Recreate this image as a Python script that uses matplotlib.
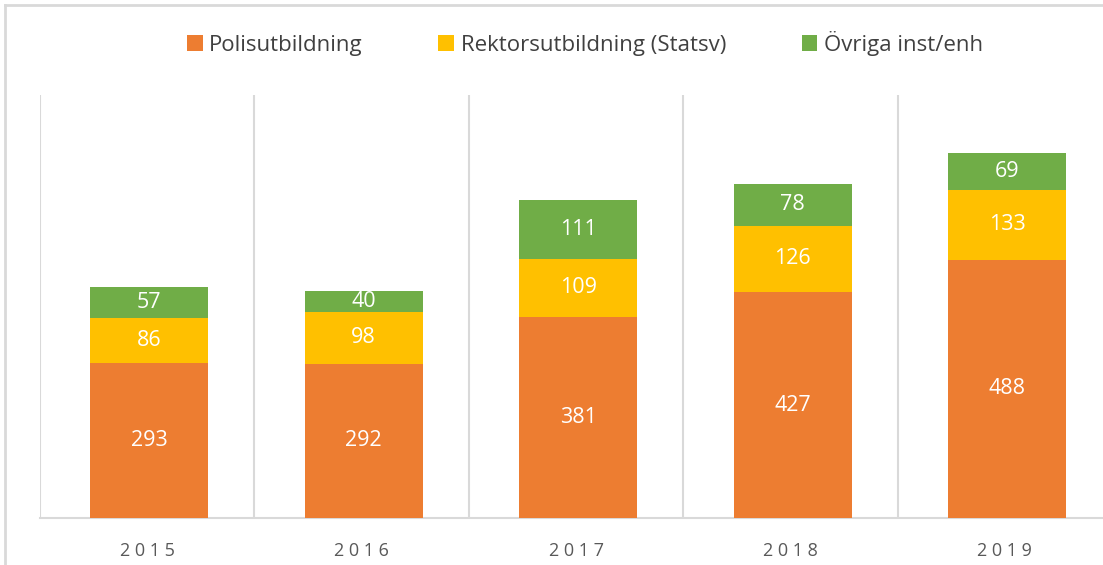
import matplotlib.pyplot as plt
from matplotlib.lines import Line2D

years = ['2015', '2016', '2017', '2018', '2019']
polis = [293, 292, 381, 427, 488]
rektor = [86, 98, 109, 126, 133]
ovriga = [57, 40, 111, 78, 69]

series = [('Polisutbildning', polis, '#ED7D31'),
          ('Rektorsutbildning (Statsv)', rektor, '#FFC000'),
          ('Övriga inst/enh', ovriga, '#70AD47')]

plt.rcParams['font.family'] = ['Open Sans', 'DejaVu Sans']

fig = plt.figure(figsize=(11.03, 5.65), dpi=100)
# outer chart frame (cropped at top/right in the original)
fig.add_artist(Line2D([5/1103, 1], [1 - 5/565, 1 - 5/565], transform=fig.transFigure,
                      color='#d9d9d9', lw=2))
fig.add_artist(Line2D([5/1103, 5/1103], [0, 1 - 5/565], transform=fig.transFigure,
                      color='#d9d9d9', lw=2))

ax = fig.add_axes([40/1103, 47/565, (1112-40)/1103, (518-95)/565])
x = range(len(years))
bottom = [0] * len(years)
handles = []
for name, vals, col in series:
    bars = ax.bar([xi + 0.01 for xi in x], vals, 0.55, bottom=bottom, color=col,
                  label=name, zorder=3)
    handles.append(bars)
    for xi, b, v in zip(x, bottom, vals):
        ax.text(xi + 0.01, b + v / 2, str(v), ha='center', va='center',
                color='white', fontsize=15.5, zorder=4)
    bottom = [b + v for b, v in zip(bottom, vals)]

ax.set_xlim(-0.5, 4.5)
ax.set_ylim(0, 800)
for bx in [-0.5, 0.5, 1.5, 2.5, 3.5]:
    ax.axvline(bx, color='#d9d9d9', lw=1.5, zorder=1)
for s in ['top', 'right', 'left']:
    ax.spines[s].set_visible(False)
ax.spines['bottom'].set_color('#d9d9d9')
ax.spines['bottom'].set_linewidth(1.5)
ax.set_yticks([])
ax.set_xticks(list(x))
ax.set_xticklabels([' '.join(y) for y in years], fontsize=13, color='#595959')
ax.tick_params(axis='x', length=0, pad=17)

fig.legend(handles=handles, loc='center', bbox_to_anchor=(585/1103, 1 - 43/565),
           ncol=3, frameon=False, fontsize=16, handlelength=0.7, handleheight=0.7,
           handletextpad=0.3, columnspacing=3.4, labelcolor='#404040')

fig.savefig('out.png', dpi=100)
